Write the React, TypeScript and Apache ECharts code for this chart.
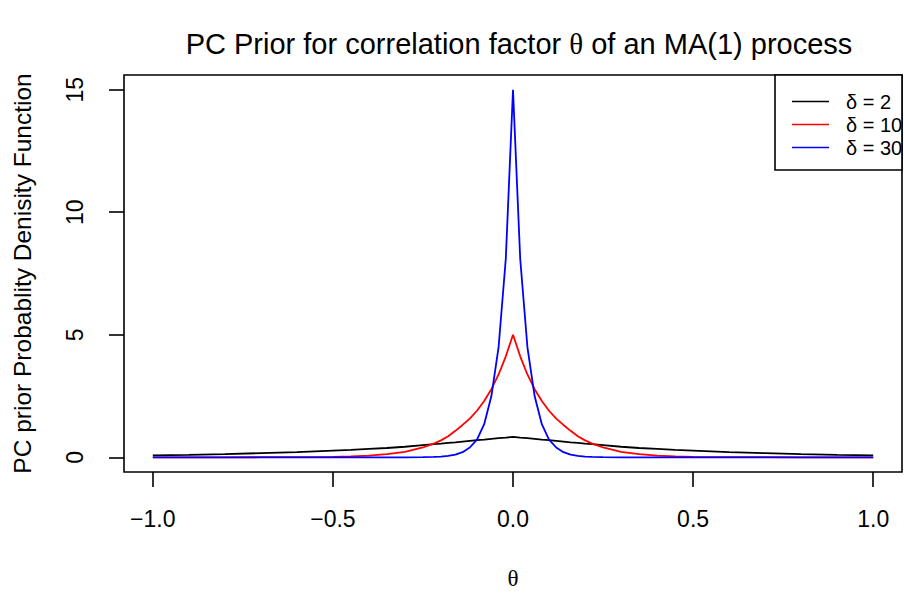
import React, { useEffect, useRef } from "react";
import * as echarts from "echarts";

const theta = [
  -1, -0.9, -0.8, -0.7, -0.6, -0.5, -0.45, -0.4, -0.35, -0.3, -0.25, -0.22, -0.2,
  -0.18, -0.16, -0.14, -0.12, -0.1, -0.08, -0.06, -0.04, -0.02, 0,
  0.02, 0.04, 0.06, 0.08, 0.1, 0.12, 0.14, 0.16, 0.18, 0.2, 0.22, 0.25, 0.3,
  0.35, 0.4, 0.45, 0.5, 0.6, 0.7, 0.8, 0.9, 1,
];

const delta2 = [
  0.08, 0.1, 0.13, 0.17, 0.21, 0.27, 0.3, 0.34, 0.38, 0.43, 0.5, 0.54, 0.56,
  0.59, 0.61, 0.64, 0.67, 0.7, 0.72, 0.75, 0.78, 0.8, 0.83,
  0.8, 0.78, 0.75, 0.72, 0.7, 0.67, 0.64, 0.61, 0.59, 0.56, 0.54, 0.5, 0.43,
  0.38, 0.34, 0.3, 0.27, 0.21, 0.17, 0.13, 0.1, 0.08,
];

const delta10 = [
  0, 0, 0, 0.003, 0.008, 0.02, 0.04, 0.07, 0.13, 0.22, 0.4, 0.56, 0.69,
  0.86, 1.08, 1.32, 1.58, 1.9, 2.3, 2.78, 3.38, 4.12, 5.0,
  4.12, 3.38, 2.78, 2.3, 1.9, 1.58, 1.32, 1.08, 0.86, 0.69, 0.56, 0.4, 0.22,
  0.13, 0.07, 0.04, 0.02, 0.008, 0.003, 0, 0, 0,
];

const delta30 = [
  0, 0, 0, 0, 0, 0, 0, 0, 0, 0, 0.01, 0.02, 0.03,
  0.06, 0.11, 0.21, 0.4, 0.72, 1.35, 2.5, 4.5, 8.1, 15,
  8.1, 4.5, 2.5, 1.35, 0.72, 0.4, 0.21, 0.11, 0.06, 0.03, 0.02, 0.01, 0,
  0, 0, 0, 0, 0, 0, 0, 0, 0,
];

const xTicks = [-1, -0.5, 0, 0.5, 1];
const yTicks = [0, 5, 10, 15];
const legendLabels = ["δ = 2", "δ = 10", "δ = 30"];
const colors = ["#000000", "#ff0000", "#0000ff"];

const FONT = "'Liberation Sans', Arial, Helvetica, sans-serif";
const SERIF = "'Liberation Serif', 'DejaVu Serif', serif";

export default function App() {
  const ref = useRef<HTMLDivElement>(null);

  useEffect(() => {
    document.body.style.margin = "0";
    const chart = echarts.init(ref.current!, null, { renderer: "svg" });
    const seriesData = [delta2, delta10, delta30];

    const legendRows = [101.5, 124.5, 147.5];
    const legendGraphics: any[] = [
      {
        type: "rect",
        shape: { x: 775, y: 75, width: 127, height: 95 },
        style: { fill: "#fff", stroke: "#000", lineWidth: 1.6 },
        z: 10,
      },
    ];
    legendLabels.forEach((lab, i) => {
      legendGraphics.push({
        type: "line",
        shape: { x1: 792, y1: legendRows[i], x2: 829, y2: legendRows[i] },
        style: { stroke: colors[i], lineWidth: 1.5 },
        z: 11,
      });
      legendGraphics.push({
        type: "text",
        x: 846,
        y: legendRows[i],
        style: {
          text: lab,
          fill: "#000",
          font: `20px ${FONT}`,
          textVerticalAlign: "middle",
          textAlign: "left",
        },
        z: 11,
      });
    });

    chart.setOption({
      animation: false,
      backgroundColor: "#fff",
      title: {
        text: "{a|PC Prior for correlation factor }{b|θ}{a| of an MA(1) process}",
        left: 514,
        top: 24,
        textAlign: "center",
        textStyle: {
          fontWeight: "normal",
          rich: {
            a: { fontFamily: FONT, fontSize: 29, fontWeight: "normal", color: "#000" },
            b: { fontFamily: SERIF, fontSize: 29, fontWeight: "normal", color: "#000" },
          },
        },
      },
      grid: {
        left: 124,
        top: 75,
        width: 778,
        height: 397,
        show: true,
        borderColor: "#000",
        borderWidth: 1.6,
        backgroundColor: "transparent",
      },
      xAxis: {
        type: "value",
        min: -1.08,
        max: 1.08,
        name: "θ",
        nameLocation: "middle",
        nameGap: 95,
        nameTextStyle: { fontFamily: SERIF, fontSize: 23, color: "#000" },
        axisLine: { show: false, onZero: false },
        splitLine: { show: false },
        axisTick: {
          show: true,
          length: 15,
          customValues: xTicks,
          lineStyle: { color: "#000", width: 1.6 },
        },
        axisLabel: {
          customValues: xTicks,
          margin: 35,
          fontFamily: FONT,
          fontSize: 23,
          color: "#000",
          formatter: (v: number) => v.toFixed(1).replace("-", "\u2212"),
        },
      },
      yAxis: {
        type: "value",
        min: -0.6,
        max: 15.6,
        name: "PC prior Probablity Denisity Function",
        nameLocation: "middle",
        nameGap: 89,
        nameRotate: 90,
        nameTextStyle: { fontFamily: FONT, fontSize: 24.5, color: "#000" },
        axisLine: { show: false, onZero: false },
        splitLine: { show: false },
        axisTick: {
          show: true,
          length: 15,
          customValues: yTicks,
          lineStyle: { color: "#000", width: 1.6 },
        },
        axisLabel: {
          customValues: yTicks,
          rotate: 90,
          margin: 38,
          fontFamily: FONT,
          fontSize: 23,
          color: "#000",
        },
      },
      series: seriesData.map((vals, i) => ({
        type: "line",
        name: legendLabels[i],
        data: theta.map((t, j) => [t, vals[j]]),
        showSymbol: false,
        symbol: "none",
        lineStyle: { color: colors[i], width: 1.8 },
        itemStyle: { color: colors[i] },
        clip: true,
        z: 2,
      })),
      graphic: legendGraphics,
    });

    return () => chart.dispose();
  }, []);

  return (
    <div
      ref={ref}
      style={{ position: "absolute", left: 0, top: 0, width: 904, height: 597 }}
    />
  );
}
